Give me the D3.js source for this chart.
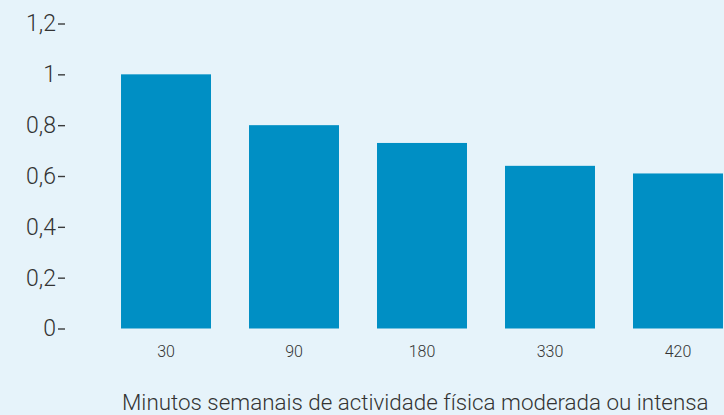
<!DOCTYPE html>
<html>
<head>
<meta charset="utf-8">
<script src="https://cdn.jsdelivr.net/npm/d3@7/dist/d3.min.js"></script>
<style>
  html, body { margin: 0; padding: 0; background: #e6f3fa; }
  svg { display: block; }
</style>
</head>
<body>
<div id="chart"></div>
<script>
// ── Data ──
const categories = ['30', '90', '180', '330', '420'];
const values = [1.0, 0.80, 0.73, 0.64, 0.61];
const yTicks = [0, 0.2, 0.4, 0.6, 0.8, 1, 1.2];
const xTitle = 'Minutos semanais de actividade física moderada ou intensa';

const width = 724;
const height = 415;

const svg = d3.select('#chart')
    .append('svg')
    .attr('width', width)
    .attr('height', height);

svg.append('rect')
    .attr('width', width)
    .attr('height', height)
    .attr('fill', '#e6f3fa');

// Scales
const x = d3.scaleBand()
    .domain(categories)
    .range([83, 761])
    .paddingInner(0.297)
    .paddingOuter(0.297);

const y = d3.scaleLinear()
    .domain([0, 1.2])
    .range([328.5, 23.5]);

const fmt = d => d3.format('.1~f')(d).replace('.', ',');

// Y axis
const yAxis = svg.append('g')
    .attr('transform', 'translate(65,0)')
    .call(d3.axisLeft(y).tickValues(yTicks).tickSize(7).tickPadding(2).tickFormat(fmt));
yAxis.select('.domain').remove();
yAxis.selectAll('.tick line')
    .attr('stroke', '#3a3a3a')
    .attr('stroke-width', 1.4);
yAxis.selectAll('.tick text')
    .attr('fill', '#333')
    .attr('font-family', 'Roboto, sans-serif')
    .attr('font-weight', 300)
    .attr('font-size', '23px');

// Bars
svg.append('g')
    .selectAll('rect')
    .data(values)
    .join('rect')
    .attr('x', (d, i) => x(categories[i]))
    .attr('y', d => y(d))
    .attr('width', x.bandwidth())
    .attr('height', d => y(0) - y(d))
    .attr('fill', '#008fc4');

// X axis labels
const xAxis = svg.append('g')
    .attr('transform', `translate(0,${y(0)})`)
    .call(d3.axisBottom(x).tickSize(0).tickPadding(17));
xAxis.select('.domain').remove();
xAxis.selectAll('.tick text')
    .attr('fill', '#333')
    .attr('font-family', 'Roboto, sans-serif')
    .attr('font-weight', 300)
    .attr('font-size', '16px');

// X title
svg.append('text')
    .attr('x', 122)
    .attr('y', 410)
    .attr('fill', '#333')
    .attr('font-family', 'Roboto, sans-serif')
    .attr('font-weight', 300)
    .attr('font-size', '22.4px')
    .text(xTitle);
</script>
</body>
</html>
